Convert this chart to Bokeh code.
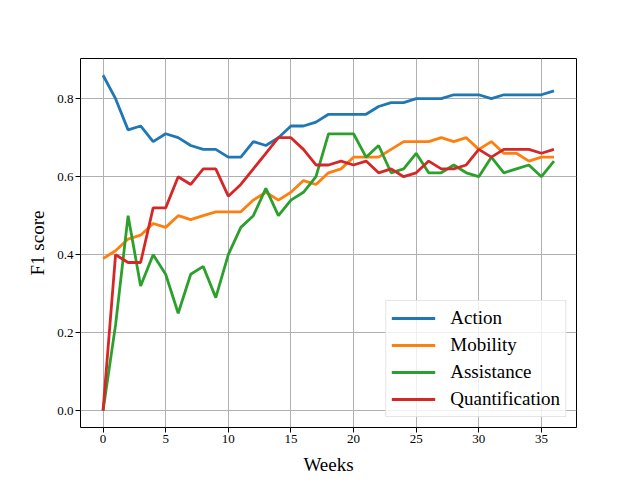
from bokeh.plotting import figure
from bokeh.models import Range1d, FixedTicker, Legend, LegendItem, PrintfTickFormatter
from bokeh.embed import file_html
from bokeh.resources import INLINE

weeks = list(range(37))
action = [0.86, 0.80, 0.72, 0.73, 0.69, 0.71, 0.70, 0.68, 0.67, 0.67, 0.65, 0.65, 0.69, 0.68, 0.70,
          0.73, 0.73, 0.74, 0.76, 0.76, 0.76, 0.76, 0.78, 0.79, 0.79, 0.80, 0.80, 0.80, 0.81, 0.81,
          0.81, 0.80, 0.81, 0.81, 0.81, 0.81, 0.82]
mobility = [0.39, 0.41, 0.44, 0.45, 0.48, 0.47, 0.50, 0.49, 0.50, 0.51, 0.51, 0.51, 0.54, 0.56, 0.54,
            0.56, 0.59, 0.58, 0.61, 0.62, 0.65, 0.65, 0.65, 0.67, 0.69, 0.69, 0.69, 0.70, 0.69, 0.70,
            0.67, 0.69, 0.66, 0.66, 0.64, 0.65, 0.65]
assistance = [0.0, 0.22, 0.50, 0.32, 0.40, 0.35, 0.25, 0.35, 0.37, 0.29, 0.40, 0.47, 0.50, 0.57, 0.50,
              0.54, 0.56, 0.60, 0.71, 0.71, 0.71, 0.65, 0.68, 0.61, 0.62, 0.66, 0.61, 0.61, 0.63, 0.61,
              0.60, 0.65, 0.61, 0.62, 0.63, 0.60, 0.64]
quantification = [0.0, 0.40, 0.38, 0.38, 0.52, 0.52, 0.60, 0.58, 0.62, 0.62, 0.55, 0.58, 0.62, 0.66, 0.70,
                  0.70, 0.67, 0.63, 0.63, 0.64, 0.63, 0.64, 0.61, 0.62, 0.60, 0.61, 0.64, 0.62, 0.62, 0.63,
                  0.67, 0.65, 0.67, 0.67, 0.67, 0.66, 0.67]
series_names = ["Action", "Mobility", "Assistance", "Quantification"]
series_values = [action, mobility, assistance, quantification]
colors = ["#1f77b4", "#ff7f0e", "#2ca02c", "#d62728"]
x_ticks = [0, 5, 10, 15, 20, 25, 30, 35]
y_ticks = [0.0, 0.2, 0.4, 0.6, 0.8]

FONT = "Liberation Serif"

p = figure(width=632, height=480, output_backend="svg", toolbar_location=None,
           x_range=Range1d(-1.8, 37.8), y_range=Range1d(-0.043, 0.903),
           min_border_left=80, min_border_right=56, min_border_top=58, min_border_bottom=53)

p.outline_line_color = "black"
p.outline_line_width = 1
p.outline_line_alpha = 1

items = []
for name, vals, c in zip(series_names, series_values, colors):
    r = p.line(weeks, vals, line_color=c, line_width=2.8)
    items.append(LegendItem(label=name, renderers=[r]))

p.xaxis.ticker = FixedTicker(ticks=x_ticks)
p.yaxis.ticker = FixedTicker(ticks=y_ticks)
p.yaxis.formatter = PrintfTickFormatter(format="%.1f")

for ax in (p.xaxis[0], p.yaxis[0]):
    ax.axis_line_color = None
    ax.major_tick_in = 0
    ax.major_tick_out = 5
    ax.major_tick_line_color = "black"
    ax.minor_tick_line_color = None
    ax.major_label_text_font = FONT
    ax.major_label_text_font_size = "13px"
    ax.major_label_text_color = "black"
    ax.axis_label_text_font = FONT
    ax.axis_label_text_font_size = "19px"
    ax.axis_label_text_font_style = "normal"
    ax.axis_label_text_color = "black"

p.xaxis.axis_label = "Weeks"
p.yaxis.axis_label = "F1 score"
p.xaxis.major_label_standoff = 2
p.yaxis.major_label_standoff = 2
p.xaxis.axis_label_standoff = 8
p.yaxis.axis_label_standoff = 6

p.xgrid.grid_line_color = "#b0b0b0"
p.ygrid.grid_line_color = "#b0b0b0"
p.xgrid.grid_line_width = 1
p.ygrid.grid_line_width = 1

legend = Legend(items=items, location="bottom_right")
legend.label_text_font = FONT
legend.label_text_font_size = "19px"
legend.label_text_color = "black"
legend.glyph_width = 44
legend.glyph_height = 24
legend.label_height = 24
legend.label_standoff = 15
legend.spacing = 3
legend.padding = 5
legend.margin = 10
legend.border_line_color = "#cccccc"
legend.border_line_width = 1
legend.background_fill_alpha = 0.8
p.add_layout(legend)

open("out.html", "w").write(file_html(p, INLINE))
